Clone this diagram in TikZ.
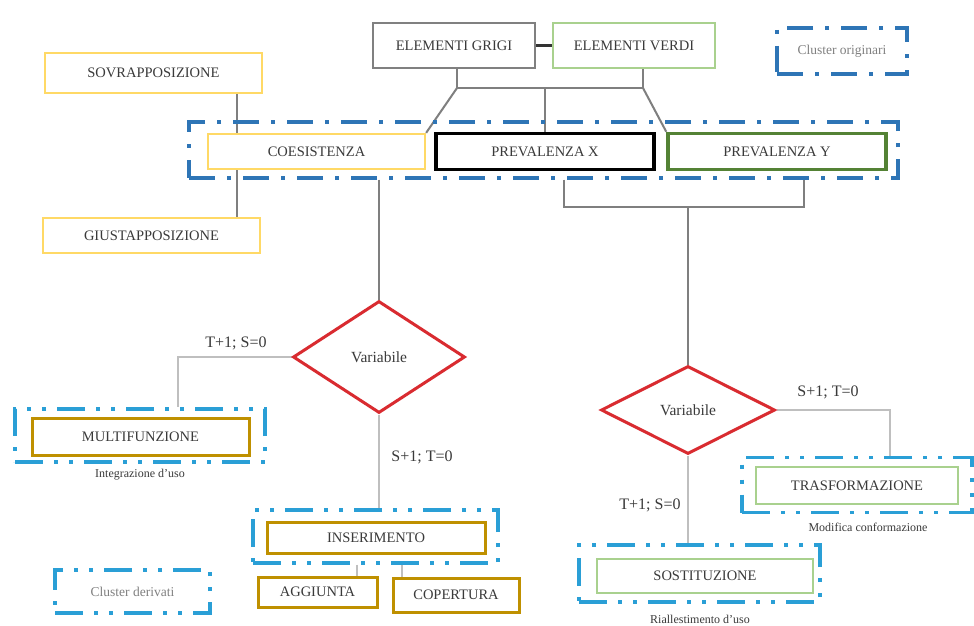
\documentclass[tikz,border=0pt]{standalone}
\usepackage{fontspec}
\setmainfont{Liberation Serif}
\usetikzlibrary{shapes.geometric,backgrounds}
\definecolor{txt}{HTML}{3A3A3A}
\definecolor{gbox}{HTML}{808080}
\definecolor{lgreen}{HTML}{A9D18E}
\definecolor{dgreen}{HTML}{548235}
\definecolor{ylw}{HTML}{FFD966}
\definecolor{gold}{HTML}{BF9000}
\definecolor{redd}{HTML}{D92B30}
\definecolor{cblue}{HTML}{2E75B6}
\definecolor{ccyan}{HTML}{2A9FD6}
\definecolor{cline}{HTML}{7F7F7F}
\definecolor{tline}{HTML}{BFBFBF}
\begin{document}
\begin{tikzpicture}[x=1pt,y=-1pt,
  box/.style={draw, rectangle, inner sep=0pt, fill=white, text=txt, font=\fontsize{14.5}{16}\selectfont},
  cluA/.style={draw=cblue, rectangle, inner sep=0pt, line width=3.2pt, dash pattern=on 26pt off 12pt on 4pt off 12pt},
  cluB/.style={draw=ccyan, rectangle, inner sep=0pt, line width=3.2pt, dash pattern=on 28pt off 11pt on 4pt off 11pt on 4pt off 11pt},
  dia/.style={draw=redd, diamond, inner sep=0pt, line width=3pt, fill=white, text=txt, font=\fontsize{15.5}{17}\selectfont},
  lbl/.style={text=txt, inner sep=0pt, font=\fontsize{16}{18}\selectfont},
  captxt/.style={text=txt, inner sep=0pt, font=\fontsize{12}{14}\selectfont},
  legtxt/.style={text=gbox, font=\fontsize{13.5}{15}\selectfont},
  conn/.style={draw=cline, line width=2pt},
  thinconn/.style={draw=tline, line width=1.3pt}]
\begin{scope}[on background layer]
\fill[white] (0,0) rectangle (974,626);
\end{scope}
\useasboundingbox (0,0) rectangle (974,626);

% coordinates
\coordinate (j1) at (457,88);
\coordinate (j2) at (643,88);
\coordinate (jm) at (545,88);
\coordinate (xs) at (237,0);
\coordinate (b1) at (564,207);
\coordinate (b2) at (804,207);
\coordinate (bm) at (688,207);
\coordinate (xl) at (178,0);
\coordinate (xr) at (890,0);
\coordinate (xa) at (357,0);
\coordinate (xb) at (402,0);

% clusters
\node[cluA, minimum width=709, minimum height=56] (bigcl) at (543.5,150) {};
\node[cluB, minimum width=250, minimum height=53] (mfcl) at (140,435.5) {};
\node[cluB, minimum width=245, minimum height=53] (inscl) at (375.5,536.5) {};
\node[cluB, minimum width=230, minimum height=55] (trcl) at (857,485) {};
\node[cluB, minimum width=241, minimum height=57] (soscl) at (699.5,573.5) {};
\node[cluA, legtxt, minimum width=130, minimum height=46] (orig) at (842,51) {Cluster originari};
\node[cluB, legtxt, minimum width=155, minimum height=43] (der) at (132.5,591.5) {Cluster derivati};

% nodes
\node[box, draw=gbox, line width=2pt, minimum width=162, minimum height=45] (grigi) at (454,45.5) {ELEMENTI GRIGI};
\node[box, draw=lgreen, line width=1.6pt, minimum width=162, minimum height=45] (verdi) at (634,45.5) {ELEMENTI VERDI};
\node[box, draw=ylw, line width=2.2pt, minimum width=217, minimum height=40] (sovr) at (153.5,73) {SOVRAPPOSIZIONE};
\node[box, draw=ylw, line width=2.2pt, minimum width=217, minimum height=35] (giust) at (151.5,235.5) {GIUSTAPPOSIZIONE};
\node[box, draw=ylw, line width=2.2pt, minimum width=217, minimum height=35] (coes) at (316.5,151.5) {COESISTENZA};
\node[box, draw=black, line width=3.5pt, minimum width=218, minimum height=36] (prevx) at (545,151.5) {PREVALENZA X};
\node[box, draw=dgreen, line width=3.5pt, minimum width=218, minimum height=36] (prevy) at (777,151.5) {PREVALENZA Y};

\node[dia, minimum width=172, minimum height=112] (d1) at (379,357) {Variabile};
\node[dia, minimum width=174, minimum height=88] (d2) at (688,410) {Variabile};

\node[box, draw=gold, line width=3pt, minimum width=217, minimum height=37] (mf) at (140.5,436.5) {MULTIFUNZIONE};
\node[captxt] (mfcap) at (140,475) {Integrazione d'uso};
\node[box, draw=gold, line width=3pt, minimum width=218, minimum height=31] (ins) at (376,537.5) {INSERIMENTO};
\node[box, draw=gold, line width=3pt, minimum width=119, minimum height=30] (agg) at (317.5,592) {AGGIUNTA};
\node[box, draw=gold, line width=3pt, minimum width=126, minimum height=34] (cop) at (456,595) {COPERTURA};

\node[box, draw=lgreen, line width=1.6pt, minimum width=202, minimum height=37] (tr) at (857,485.5) {TRASFORMAZIONE};
\node[captxt] (trcap) at (868,527) {Modifica conformazione};
\node[box, draw=lgreen, line width=1.6pt, minimum width=216, minimum height=34] (sos) at (705,576) {SOSTITUZIONE};
\node[captxt] (soscap) at (700,619) {Riallestimento d'uso};

\node[lbl] (l1) at (236,343) {T+1; S=0};
\node[lbl] (l2) at (422,457) {S+1; T=0};
\node[lbl] (l3) at (828,392) {S+1; T=0};
\node[lbl] (l4) at (650,505) {T+1; S=0};

% connectors
\begin{scope}[on background layer]
\draw[conn] (grigi.south -| j1) -- (j1) -- (j2) -- (verdi.south -| j2);
\draw[conn] (j1) -- (coes.north east);
\draw[conn] (j2) -- (prevy.north west);
\draw[conn] (jm) -- (prevx.north);
\draw[conn] (sovr.south -| xs) -- (coes.north -| xs);
\draw[conn] (coes.south -| xs) -- (giust.north -| xs);
\draw[conn] (bigcl.south -| d1.north) -- (d1.north);
\draw[conn] (bigcl.south -| b1) -- (b1) -- (b2) -- (bigcl.south -| b2);
\draw[conn] (bm) -- (d2.north);
\draw[thinconn] (d1.west) -- (d1.west -| xl) -- (mfcl.north -| xl);
\draw[thinconn] (d1.south) -- (inscl.north -| d1.south);
\draw[thinconn] (d2.east) -- (d2.east -| xr) -- (trcl.north -| xr);
\draw[thinconn] (d2.south) -- (soscl.north -| d2.south);
\draw[thinconn] (inscl.south -| xa) -- (agg.north -| xa);
\draw[thinconn] (inscl.south -| xb) -- (cop.north -| xb);
\end{scope}
\draw[line width=3pt, draw=black!80] (grigi.east) -- (verdi.west);
\end{tikzpicture}
\end{document}
